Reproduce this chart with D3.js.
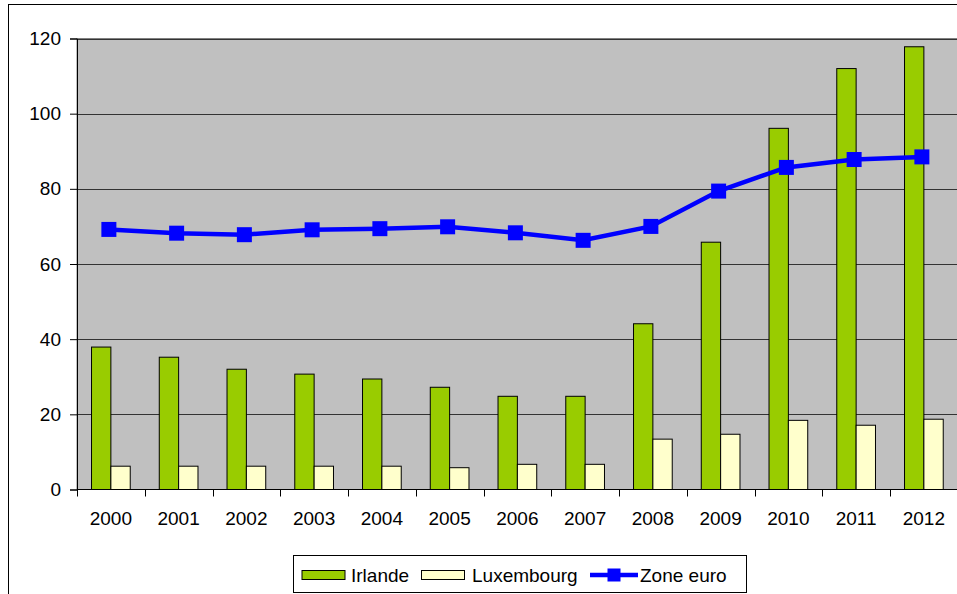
<!DOCTYPE html>
<html>
<head>
<meta charset="utf-8">
<script src="https://cdn.jsdelivr.net/npm/d3@7"></script>
<style>
  html, body { margin: 0; padding: 0; background: #fff; }
  svg { display: block; font-family: "Liberation Sans", Arial, sans-serif; }
</style>
</head>
<body>
<svg id="chart" width="957" height="594"></svg>
<script>
// Dette publique (% du PIB)
const years = ["2000","2001","2002","2003","2004","2005","2006","2007","2008","2009","2010","2011","2012"];
const irlande = [37.9, 35.2, 32.0, 30.7, 29.4, 27.2, 24.8, 24.8, 44.1, 65.8, 96.1, 112.0, 117.8];
const luxembourg = [6.2, 6.2, 6.2, 6.2, 6.2, 5.8, 6.7, 6.7, 13.4, 14.7, 18.4, 17.1, 18.7];
const zoneEuro = [69.2, 68.2, 67.8, 69.1, 69.4, 69.9, 68.3, 66.3, 70.0, 79.4, 85.7, 87.8, 88.5];
const yTicks = [0, 20, 40, 60, 80, 100, 120];
const seriesNames = ["Irlande", "Luxembourg", "Zone euro"];

const colors = { irlande: "#99CC00", luxembourg: "#FFFFCC", euro: "#0000FF", plot: "#C0C0C0" };

const svg = d3.select("#chart");
const plot = { left: 77, top: 38.5, bottom: 489.5, right: 77 + 13 * 67.75 };

const x = d3.scaleBand().domain(years).range([plot.left, plot.right]).paddingInner(0).paddingOuter(0);
const y = d3.scaleLinear().domain([0, 120]).range([plot.bottom, plot.top]);

// outer chart frame
svg.append("rect")
  .attr("x", 8.5).attr("y", 4.5).attr("width", 960).attr("height", 600)
  .attr("fill", "#fff").attr("stroke", "#000").attr("stroke-width", 1);

// plot area
svg.append("rect")
  .attr("x", plot.left).attr("y", plot.top)
  .attr("width", plot.right - plot.left).attr("height", plot.bottom - plot.top)
  .attr("fill", colors.plot).attr("stroke", "#808080").attr("stroke-width", 1);

// gridlines
svg.append("g").selectAll("line").data(yTicks.filter(d => d > 0)).join("line")
  .attr("x1", plot.left).attr("x2", plot.right)
  .attr("y1", d => Math.round(y(d)) + 0.5).attr("y2", d => Math.round(y(d)) + 0.5)
  .attr("stroke", "#333").attr("stroke-width", 1);

// bars
const step = x.step();
const bw = step / 3.5;
const barG = svg.append("g").attr("stroke", "#000").attr("stroke-width", 1);
barG.selectAll("rect.irl").data(years).join("rect")
  .attr("class", "irl")
  .attr("x", (d) => x(d) + bw * 0.75)
  .attr("width", bw)
  .attr("y", (d, i) => y(irlande[i]))
  .attr("height", (d, i) => y(0) - y(irlande[i]))
  .attr("fill", colors.irlande);
barG.selectAll("rect.lux").data(years).join("rect")
  .attr("class", "lux")
  .attr("x", (d) => x(d) + bw * 1.75)
  .attr("width", bw)
  .attr("y", (d, i) => y(luxembourg[i]))
  .attr("height", (d, i) => y(0) - y(luxembourg[i]))
  .attr("fill", colors.luxembourg);

// y axis
const yAxis = svg.append("g")
  .attr("transform", `translate(${plot.left},0)`)
  .call(d3.axisLeft(y).tickValues(yTicks).tickSize(7).tickPadding(9).tickFormat(d3.format("d")));
yAxis.select(".domain").attr("stroke", "#000");
yAxis.selectAll(".tick line").attr("stroke", "#000");
yAxis.selectAll(".tick text").attr("font-size", 19).attr("fill", "#000")
  .attr("font-family", "Liberation Sans, Arial, sans-serif");

// x axis: labels centred in each category, ticks between categories
svg.append("line")
  .attr("x1", plot.left).attr("x2", plot.right)
  .attr("y1", plot.bottom).attr("y2", plot.bottom)
  .attr("stroke", "#000");
svg.append("g").selectAll("line").data(years.concat(["end"])).join("line")
  .attr("x1", (d, i) => Math.round(plot.left + i * step) + 0.5)
  .attr("x2", (d, i) => Math.round(plot.left + i * step) + 0.5)
  .attr("y1", plot.bottom).attr("y2", plot.bottom + 7)
  .attr("stroke", "#000");
const xAxis = svg.append("g")
  .attr("transform", `translate(0,${plot.bottom})`)
  .call(d3.axisBottom(x).tickSize(0).tickPadding(22));
xAxis.select(".domain").remove();
xAxis.selectAll(".tick text").attr("font-size", 19).attr("fill", "#000")
  .attr("font-family", "Liberation Sans, Arial, sans-serif");

// Zone euro line
const lineX = (d) => x(d) + step / 2 - 2;
const line = d3.line().x((d, i) => lineX(years[i])).y(d => y(d));
svg.append("path").datum(zoneEuro)
  .attr("d", line).attr("fill", "none")
  .attr("stroke", colors.euro).attr("stroke-width", 4.5);
const ms = 15;
svg.append("g").selectAll("rect").data(zoneEuro).join("rect")
  .attr("x", (d, i) => lineX(years[i]) - ms / 2)
  .attr("y", d => y(d) - ms / 2)
  .attr("width", ms).attr("height", ms)
  .attr("fill", colors.euro);

// legend
const legend = svg.append("g");
legend.append("rect")
  .attr("x", 293.5).attr("y", 555.5).attr("width", 453).attr("height", 37)
  .attr("fill", "#fff").attr("stroke", "#000");
const ly = 575;
legend.append("rect").attr("x", 302).attr("y", ly - 4.5).attr("width", 43).attr("height", 9)
  .attr("fill", colors.irlande).attr("stroke", "#000");
legend.append("rect").attr("x", 421.5).attr("y", ly - 4.5).attr("width", 43).attr("height", 9)
  .attr("fill", colors.luxembourg).attr("stroke", "#000");
legend.append("line").attr("x1", 590).attr("x2", 638).attr("y1", ly).attr("y2", ly)
  .attr("stroke", colors.euro).attr("stroke-width", 4.5);
legend.append("rect").attr("x", 614 - ms / 2 + 1).attr("y", ly - 6.5).attr("width", 13).attr("height", 13)
  .attr("fill", colors.euro);
const textX = [351, 472, 640];
legend.selectAll("text").data(seriesNames).join("text")
  .attr("x", (d, i) => textX[i]).attr("y", ly).attr("dy", "0.36em")
  .attr("font-size", 19).attr("fill", "#000")
  .text(d => d);
</script>
</body>
</html>
